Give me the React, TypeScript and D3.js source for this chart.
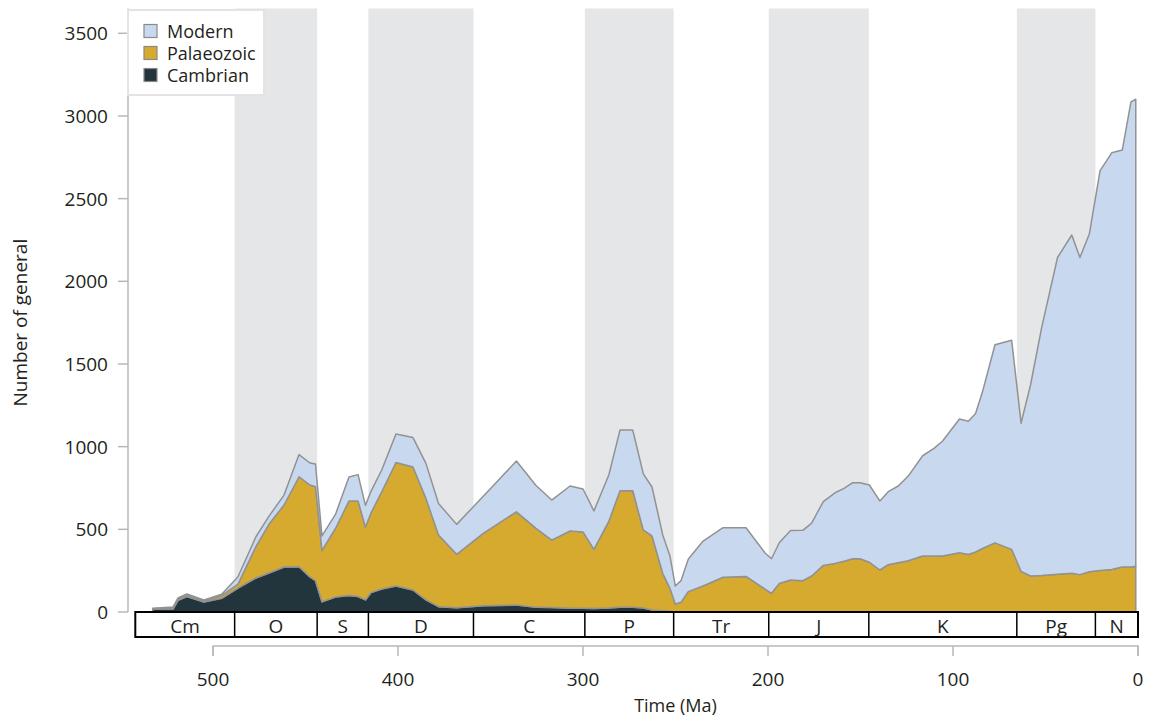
import React from 'react';
import * as d3 from 'd3';

// Time (Ma) of each sample
const ages = [532.6, 521.6, 518.9, 514.1, 504.9, 495.3, 486.5, 476.8, 469.7, 461.6, 453.5, 447.6, 444.6, 441.1, 433.8, 426.5, 421.6, 417.6, 414.6, 408.8, 401.1, 391.9, 384.9, 378.1, 368.3, 353.9, 336.0, 325.4, 316.9, 307.0, 300.0, 294.1, 286.0, 280.0, 273.1, 267.4, 262.7, 256.9, 253.0, 250.1, 247.0, 243.1, 235.1, 224.3, 211.9, 201.6, 198.1, 193.9, 187.8, 181.2, 176.4, 170.1, 163.8, 158.9, 154.2, 150.3, 145.2, 139.5, 135.0, 129.6, 124.2, 116.4, 110.3, 105.6, 96.5, 91.7, 87.8, 84.1, 77.3, 68.3, 63.2, 58.1, 52.1, 43.5, 35.8, 31.4, 26.3, 20.5, 14.2, 8.5, 3.8, 1.2];

// Number of genera in each evolutionary fauna
const cambrian = [18, 18, 70, 93, 60, 83, 145, 206, 236, 272, 274, 212, 189, 62, 90, 100, 94, 73, 117, 139, 157, 133, 73, 32, 26, 38, 42, 28, 27, 22, 22, 21, 24, 28, 28, 24, 12, 8, 4, 0, 0, 0, 0, 0, 0, 0, 0, 0, 0, 0, 0, 0, 0, 0, 0, 0, 0, 0, 0, 0, 0, 0, 0, 0, 0, 0, 0, 0, 0, 0, 0, 0, 0, 0, 0, 0, 0, 0, 0, 0, 0, 0];
const palaeozoic = [2, 8, 10, 8, 7, 16, 24, 189, 296, 375, 544, 556, 569, 310, 415, 571, 577, 441, 482, 588, 747, 744, 614, 434, 323, 438, 564, 478, 408, 468, 462, 358, 526, 705, 705, 472, 448, 226, 139, 48, 59, 123, 157, 210, 215, 139, 113, 172, 193, 189, 218, 282, 294, 307, 322, 322, 301, 254, 286, 298, 310, 339, 339, 339, 358, 348, 363, 384, 418, 379, 246, 218, 221, 228, 235, 226, 243, 251, 257, 272, 272, 276];
const modern = [2, 4, 5, 8, 6, 8, 44, 60, 48, 60, 134, 133, 137, 88, 85, 145, 160, 131, 131, 132, 172, 178, 212, 190, 181, 224, 307, 259, 242, 272, 260, 232, 280, 367, 367, 339, 296, 232, 196, 109, 131, 196, 272, 300, 295, 218, 209, 247, 300, 305, 320, 386, 427, 441, 460, 460, 467, 417, 442, 464, 512, 606, 651, 695, 809, 806, 837, 946, 1198, 1265, 896, 1155, 1497, 1916, 2045, 1918, 2043, 2418, 2520, 2522, 2813, 2825];

const faunaKeys = ['Cambrian', 'Palaeozoic', 'Modern'];
const faunaColors = ['#22343c', '#d5aa2e', '#c8d9ef'];
const legendOrder = ['Modern', 'Palaeozoic', 'Cambrian'];

// Geologic periods
const periodNames = ['Cm', 'O', 'S', 'D', 'C', 'P', 'Tr', 'J', 'K', 'Pg', 'N'];
const periodBounds = [542, 488.3, 443.7, 416, 359.2, 299, 251, 199.6, 145.5, 65.5, 23.03, 0];
const periodShaded = [false, true, false, true, false, true, false, true, false, true, false];

const yTicks = [0, 500, 1000, 1500, 2000, 2500, 3000, 3500];
const xTicks = [500, 400, 300, 200, 100, 0];

const FONT = '"Open Sans", "DejaVu Sans", sans-serif';
const TEXT = '#231f20';
const AXIS = '#b8b8b8';

export default function App() {
  const W = 1150, H = 716;
  const x = d3.scaleLinear().domain([542, 0]).range([135.3, 1138]);
  const y = d3.scaleLinear().domain([0, 3650]).range([612, 8.5]);

  const rows = ages.map((a, i) => ({ age: a, Cambrian: cambrian[i], Palaeozoic: palaeozoic[i], Modern: modern[i] }));
  const series = d3.stack<any>().keys(faunaKeys)(rows);
  const area = d3.area<any>()
    .x((d: any) => x(d.data.age))
    .y0((d: any) => y(d[0]))
    .y1((d: any) => y(d[1]));

  const boxTop = 612, boxBot = 637;
  const axisY = 646;
  const axisX0 = x(xTicks[0]), axisX1 = x(xTicks[xTicks.length - 1]);

  return (
    <svg width={W} height={H} style={{ position: 'absolute', left: 0, top: 0, display: 'block', background: '#fff' }}>
      {/* shaded periods */}
      {periodNames.map((p, i) => periodShaded[i] ? (
        <rect key={'band' + p} x={x(periodBounds[i])} y={y(3650)} width={x(periodBounds[i + 1]) - x(periodBounds[i])} height={y(0) - y(3650)} fill="#e5e6e8" />
      ) : null)}

      {/* stacked areas */}
      {series.map((s: any, i: number) => (
        <path key={faunaKeys[i]} d={area(s) || ''} fill={faunaColors[i]} stroke="#929292" strokeWidth={1.5} strokeLinejoin="round" />
      ))}

      {/* y axis */}
      <line x1={128} x2={128} y1={y(0)} y2={y(3650)} stroke={AXIS} strokeWidth={1.5} />
      {yTicks.map(t => (
        <g key={'yt' + t}>
          <line x1={118} x2={128} y1={y(t)} y2={y(t)} stroke={AXIS} strokeWidth={1.5} />
          <text x={108} y={y(t)} textAnchor="end" dominantBaseline="central" fontFamily={FONT} fontSize={19} fill={TEXT}>{t}</text>
        </g>
      ))}
      <text transform={`translate(20,${(y(0) + y(3500)) / 2}) rotate(-90)`} textAnchor="middle" dominantBaseline="central" fontFamily={FONT} fontSize={19} fill={TEXT}>Number of general</text>

      {/* period boxes */}
      <rect x={x(periodBounds[0])} y={boxTop} width={x(0) - x(periodBounds[0])} height={boxBot - boxTop} fill="#fff" stroke="#000" strokeWidth={2} />
      {periodNames.map((p, i) => (
        <g key={'p' + p}>
          {i > 0 && <line x1={x(periodBounds[i])} x2={x(periodBounds[i])} y1={boxTop} y2={boxBot} stroke="#000" strokeWidth={1.5} />}
          <text x={(x(periodBounds[i]) + x(periodBounds[i + 1])) / 2} y={(boxTop + boxBot) / 2 + 1} textAnchor="middle" dominantBaseline="central" fontFamily={FONT} fontSize={19} fill={TEXT}>{p}</text>
        </g>
      ))}

      {/* x axis */}
      <path d={`M${axisX0},${axisY + 10}V${axisY}H${axisX1}V${axisY + 10}`} fill="none" stroke={AXIS} strokeWidth={1.5} />
      {xTicks.map(t => (
        <g key={'xt' + t}>
          <line x1={x(t)} x2={x(t)} y1={axisY} y2={axisY + 10} stroke={AXIS} strokeWidth={1.5} />
          <text x={x(t)} y={679} textAnchor="middle" dominantBaseline="central" fontFamily={FONT} fontSize={19} fill={TEXT}>{t}</text>
        </g>
      ))}
      <text x={(axisX0 + axisX1) / 2} y={705} textAnchor="middle" dominantBaseline="central" fontFamily={FONT} fontSize={18} fill={TEXT}>Time (Ma)</text>

      {/* legend */}
      <rect x={128} y={10} width={136} height={85} fill="#fff" stroke="#e3e3e3" strokeWidth={2} />
      {legendOrder.map((k, i) => {
        const ci = faunaKeys.indexOf(k);
        const cy = 31 + i * 22;
        return (
          <g key={'lg' + k}>
            <rect x={144} y={cy - 6.5} width={13} height={13} fill={faunaColors[ci]} stroke="#8a8a8a" strokeWidth={1.2} />
            <text x={167} y={cy} dominantBaseline="central" fontFamily={FONT} fontSize={18} fill={TEXT}>{k}</text>
          </g>
        );
      })}
    </svg>
  );
}
